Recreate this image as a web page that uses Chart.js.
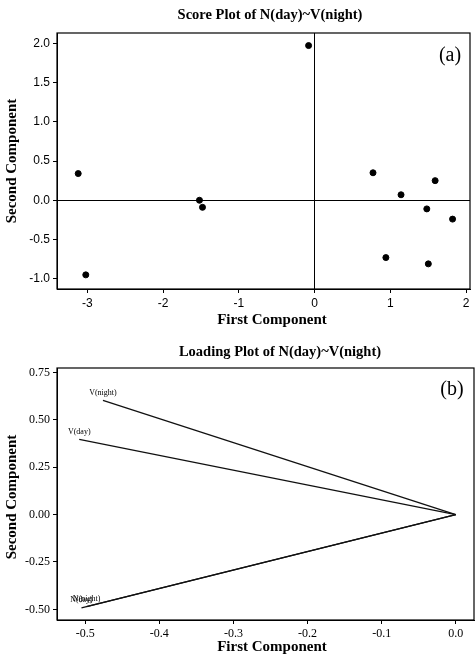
<!DOCTYPE html>
<html>
<head>
<meta charset="utf-8">
<script src="https://cdn.jsdelivr.net/npm/chart.js@4"></script>
<style>
  body { margin: 0; background: #fff; }
  canvas { position: absolute; left: 0; }
  #score { top: 0; }
  #loading { top: 330px; }
</style>
</head>
<body>
<canvas id="score" width="475" height="330"></canvas>
<canvas id="loading" width="475" height="325"></canvas>
<script>
// Score plot (a)
const scoreX = [-3.12, -3.02, -1.52, -1.48, -0.08, 0.77, 1.14, 1.59, 1.48, 1.82, 0.94, 1.50];
const scoreY = [0.34, -0.95, 0.00, -0.09, 1.97, 0.35, 0.07, 0.25, -0.11, -0.24, -0.73, -0.81];
const scoreTicksX = [-3, -2, -1, 0, 1, 2];
const scoreTicksY = [-1.0, -0.5, 0.0, 0.5, 1.0, 1.5, 2.0];

// Loading plot (b)
const loadNames = ['V(night)', 'V(day)', 'N(day)', 'N(night)'];
const loadX = [-0.476, -0.508, -0.505, -0.498];
const loadY = [0.602, 0.396, -0.492, -0.486];
const loadTicksX = [-0.5, -0.4, -0.3, -0.2, -0.1, 0.0];
const loadTicksY = [-0.50, -0.25, 0.00, 0.25, 0.50, 0.75];

(function(){
  const serif = '"Liberation Serif", "DejaVu Serif", serif';
  const sans = '"Liberation Sans", Arial, sans-serif';

  function fixTicks(arr) {
    return function(scale) { scale.ticks = arr.map(v => ({ value: v })); };
  }

  // frame, titles and panel letter
  function decor(opts) {
    return {
      id: 'decor',
      afterDraw(chart) {
        const ctx = chart.ctx, a = chart.chartArea;
        ctx.save();
        ctx.strokeStyle = '#000';
        ctx.lineWidth = 1.2;
        ctx.strokeRect(a.left, a.top, a.right - a.left, a.bottom - a.top);
        ctx.fillStyle = '#000';
        ctx.textAlign = 'center';
        ctx.textBaseline = 'middle';
        ctx.font = 'bold 14.5px ' + serif;
        ctx.fillText(opts.title, opts.titleX, opts.titleY);
        ctx.font = 'bold 15px ' + serif;
        ctx.fillText('First Component', opts.xTitleX, opts.xTitleY);
        ctx.save();
        ctx.translate(12, opts.yTitleY);
        ctx.rotate(-Math.PI / 2);
        ctx.fillText('Second Component', 0, 0);
        ctx.restore();
        ctx.font = '20px ' + serif;
        ctx.fillText(opts.letter, opts.letterX, opts.letterY);
        if (opts.labels) opts.labels(chart, ctx);
        ctx.restore();
      }
    };
  }

  function axes(xmin, xmax, ymin, ymax, tx, ty, fx, fy, zeroLines, font, xh) {
    const grid = {
      color: c => (zeroLines && c.tick && c.tick.value === 0) ? '#000' : 'rgba(0,0,0,0)',
      tickColor: '#000',
      tickLength: 4,
      lineWidth: 1
    };
    return {
      x: {
        type: 'linear', min: xmin, max: xmax,
        afterBuildTicks: fixTicks(tx),
        afterFit: s => { s.height = xh; },
        grid: grid,
        border: { display: true, color: '#000' },
        ticks: { color: '#000', font: font, padding: 3, maxRotation: 0, callback: v => v.toFixed(fx) }
      },
      y: {
        type: 'linear', min: ymin, max: ymax,
        afterBuildTicks: fixTicks(ty),
        afterFit: s => { s.width = 57; },
        grid: grid,
        border: { display: true, color: '#000' },
        ticks: { color: '#000', font: font, padding: 3, callback: v => v.toFixed(fy) }
      }
    };
  }

  new Chart(document.getElementById('score'), {
    type: 'scatter',
    data: {
      datasets: [{
        data: scoreX.map((x, i) => ({ x: x, y: scoreY[i] })),
        backgroundColor: '#000',
        borderColor: '#000',
        pointRadius: 3
      }]
    },
    options: {
      responsive: false, animation: false, devicePixelRatio: 1,
      layout: { padding: { top: 33, right: 2, left: 0, bottom: 0 } },
      plugins: { legend: { display: false }, tooltip: { enabled: false } },
      scales: axes(-3.4, 2.05, -1.13, 2.13, scoreTicksX, scoreTicksY, 0, 1, true,
        { family: sans, size: 12 }, 41)
    },
    plugins: [decor({
      title: 'Score Plot of N(day)~V(night)', titleX: 270, titleY: 15,
      xTitleX: 272, xTitleY: 320, yTitleY: 161,
      letter: '(a)', letterX: 450, letterY: 56
    })]
  });

  new Chart(document.getElementById('loading'), {
    type: 'scatter',
    data: {
      datasets: loadNames.map((n, i) => ({
        label: n,
        data: [{ x: 0, y: 0 }, { x: loadX[i], y: loadY[i] }],
        showLine: true,
        pointRadius: 0,
        borderColor: '#111',
        borderWidth: 1.3
      }))
    },
    options: {
      responsive: false, animation: false, devicePixelRatio: 1,
      layout: { padding: { top: 38, right: 1, left: 0, bottom: 0 } },
      plugins: { legend: { display: false }, tooltip: { enabled: false } },
      scales: axes(-0.538, 0.0246, -0.556, 0.773, loadTicksX, loadTicksY, 1, 2, false,
        { family: serif, size: 12 }, 35)
    },
    plugins: [decor({
      title: 'Loading Plot of N(day)~V(night)', titleX: 280, titleY: 22,
      xTitleX: 272, xTitleY: 317, yTitleY: 167,
      letter: '(b)', letterX: 452, letterY: 60,
      labels: (chart, ctx) => {
        const sx = chart.scales.x, sy = chart.scales.y;
        ctx.font = '8px ' + serif;
        ctx.textAlign = 'center';
        loadNames.forEach((n, i) => {
          ctx.fillText(n, sx.getPixelForValue(loadX[i]), sy.getPixelForValue(loadY[i]) - 8);
        });
      }
    })]
  });
})();
</script>
</body>
</html>
